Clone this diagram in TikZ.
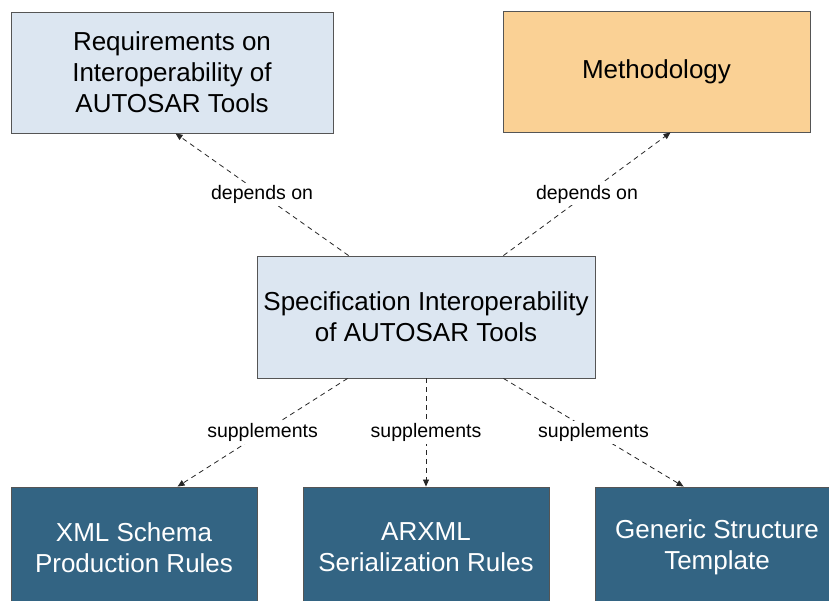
\documentclass[tikz,border=0pt]{standalone}
\usepackage{fontspec}
\setmainfont{Liberation Sans}
\usepackage{xcolor}
\usetikzlibrary{positioning,calc,arrows.meta}
\definecolor{specblue}{HTML}{DCE6F1}
\definecolor{methorange}{HTML}{FAD195}
\definecolor{ruleblue}{HTML}{336483}
\definecolor{edgegray}{HTML}{555555}
\tikzset{
  docbox/.style={draw=edgegray, line width=0.9pt, align=center, inner sep=0pt,
    font=\fontsize{26}{31}\selectfont},
  lightbox/.style={docbox, fill=specblue, text=black},
  rulebox/.style={docbox, fill=ruleblue, text=white},
  relation/.style={draw=black!85, line width=0.8pt, dash pattern=on 5pt off 4pt,
    -{Triangle[length=7pt,width=6pt]}},
  rellabel/.style={fill=white, inner sep=2pt, font=\fontsize{19.5}{22}\selectfont}
}
\begin{document}
\begin{tikzpicture}[x=1pt,y=-1pt]
    \useasboundingbox (0,0) rectangle (829,601);
    \clip (0,0) rectangle (829,601);
    % Top
    \node[lightbox, minimum width=322pt, minimum height=121pt] (req) at (172,72.5)
        {Requirements on\\Interoperability of\\AUTOSAR Tools};
    \node[docbox, fill=methorange, minimum width=307pt, minimum height=121pt] (meth) at (656.5,71.5)
        {Methodology};
    % Center
    \node[lightbox, minimum width=338pt, minimum height=122pt] (spec) at (426,317)
        {Specification Interoperability\\of AUTOSAR Tools};
    % Bottom
    \node[rulebox, minimum width=246pt, minimum height=121pt] (xsd) at (134,547.5)
        {XML Schema\\Production Rules};
    \node[rulebox, minimum width=246pt, minimum height=121pt] (arxml) at (426,547.5)
        {ARXML\\Serialization Rules};
    \node[rulebox, minimum width=244pt, minimum height=121pt] (gst) at (717,547.5)
        {Generic Structure\\Template};

    % Relations
    \draw[relation] ([xshift=92pt]spec.north west) -- ([xshift=165pt]req.south west)
        node[rellabel, pos=0.5] {depends on};
    \draw[relation] ([xshift=-92pt]spec.north east) -- ([xshift=168pt]meth.south west)
        node[rellabel, pos=0.5] {depends on};
    \draw[relation] ([xshift=91pt]spec.south west) -- ([xshift=167pt]xsd.north west)
        node[rellabel, pos=0.5] {supplements};
    \draw[relation] (spec.south) -- (arxml.north)
        node[rellabel, pos=0.5] {supplements};
    \draw[relation] ([xshift=-92pt]spec.south east) -- ([xshift=89pt]gst.north west)
        node[rellabel, pos=0.5] {supplements};
\end{tikzpicture}
\end{document}
